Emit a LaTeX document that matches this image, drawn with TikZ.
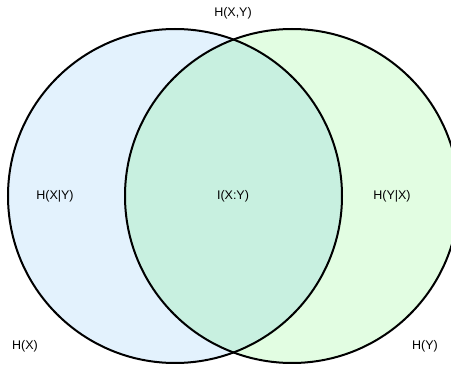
\documentclass[tikz,border=0pt]{standalone}
\usepackage{fontspec}
\setmainfont{Liberation Sans}
\definecolor{lblue}{RGB}{227,242,253}
\definecolor{lgreen}{RGB}{226,253,226}
\definecolor{overlap}{RGB}{200,240,224}
\begin{document}
\begin{tikzpicture}[x=1pt,y=-1pt,
  lbl/.style={font=\fontsize{12.5}{14}\selectfont, inner sep=0pt, text=black},
  ring/.style={draw=black, line width=2pt}]
\useasboundingbox (0,0) rectangle (451,366);
\clip (0,0) rectangle (451,366);
\coordinate (cl) at (175,196);
\coordinate (cr) at (292,196);
\fill[lblue] (cl) circle[radius=167];
\fill[lgreen] (cr) circle[radius=167];
\begin{scope}
  \clip (cl) circle[radius=167];
  \fill[overlap] (cr) circle[radius=167];
\end{scope}
\draw[ring] (cl) circle[radius=167];
\draw[ring] (cr) circle[radius=167];
\node[lbl] (hxy) at (233,13) {H(X,Y)};
\node[lbl] (hxgy) at (55,196) {H(X|Y)};
\node[lbl] (ixy) at (233,196) {I(X:Y)};
\node[lbl] (hygx) at (392,196) {H(Y|X)};
\node[lbl] (hx) at (25,346) {H(X)};
\node[lbl] (hy) at (425,346) {H(Y)};
\end{tikzpicture}
\end{document}
